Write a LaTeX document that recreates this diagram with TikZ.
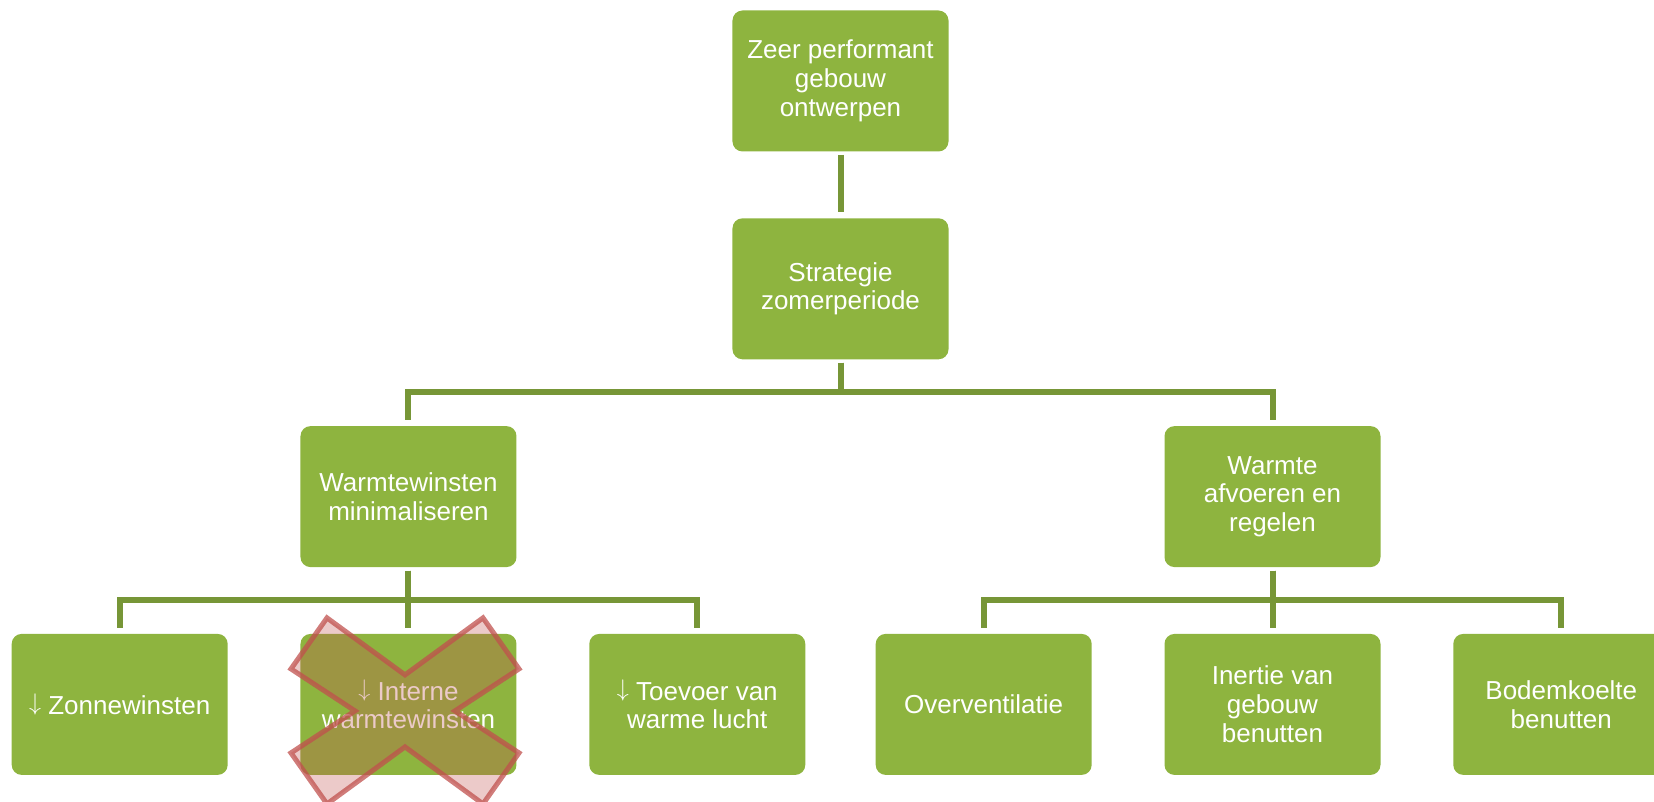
\documentclass[tikz,border=0pt]{standalone}
\usepackage{fontspec}
\setmainfont{Liberation Sans}
\usetikzlibrary{positioning}
\definecolor{boxgreen}{RGB}{142,180,63}
\definecolor{linkgreen}{RGB}{119,150,55}
\definecolor{crossred}{RGB}{192,80,77}
\newcommand{\less}{\raisebox{1.8pt}{$\downarrow$}}
\tikzset{
  box/.style={rectangle, rounded corners=5pt, fill=boxgreen, text=white,
    minimum width=108pt, minimum height=70.5pt, inner sep=2pt, align=center,
    font=\fontsize{13}{14.4}\selectfont},
  link/.style={draw=linkgreen, line width=3pt, shorten <=1.5pt, shorten >=3pt},
  cross/.style={draw=crossred, draw opacity=0.75, line width=2.5pt,
    fill=crossred, fill opacity=0.3}
}
\begin{document}
\begin{tikzpicture}[node distance=33pt and 36pt]

		\useasboundingbox (-420.25pt,-360.5pt) rectangle (406.75pt,40.5pt);

		%top of the tree
		\node[box] (goal) {Zeer performant\\gebouw\\ontwerpen};
		\node[box, below=of goal] (strat) {Strategie\\zomerperiode};
		\draw[link] (goal) -- (strat);

		%the two branches
		\node[box, below=of strat, xshift=-216pt] (minim) {Warmtewinsten\\minimaliseren};
		\node[box, below=of strat, xshift=216pt] (afvoer) {Warmte\\afvoeren en\\regelen};
		\draw[link] (strat.south) -- ++(0,-16pt) -| (minim.north);
		\draw[link] (strat.south) -- ++(0,-16pt) -| (afvoer.north);

		%leaves under minimaliseren
		\node[box, below=of minim] (intern) {\less{} Interne\\warmtewinsten};
		\node[box, left=of intern] (zon) {\less{} Zonnewinsten};
		\node[box, right=of intern] (lucht) {\less{} Toevoer van\\warme lucht};
		\draw[link] (minim.south) -- ++(0,-16pt) -| (zon.north);
		\draw[link] (minim) -- (intern);
		\draw[link] (minim.south) -- ++(0,-16pt) -| (lucht.north);

		%leaves under afvoeren
		\node[box, below=of afvoer] (inertie) {Inertie van\\gebouw\\benutten};
		\node[box, left=of inertie] (overv) {Overventilatie};
		\node[box, right=of inertie] (bodem) {Bodemkoelte\\benutten};
		\draw[link] (afvoer.south) -- ++(0,-16pt) -| (overv.north);
		\draw[link] (afvoer) -- (inertie);
		\draw[link] (afvoer.south) -- ++(0,-16pt) -| (bodem.north);

		% the red cross over the internal gains
		\begin{scope}[x=0.5pt, y=-0.5pt, shift={(intern.center)}, shift={(-3.5,6.5)}]
			\draw[cross] (-78,-93) -- (0,-36) -- (78,-93) -- (114,-42) -- (50,0)
				-- (114,42) -- (78,93) -- (0,36) -- (-78,93) -- (-114,42)
				-- (-50,0) -- (-114,-42) -- cycle;
		\end{scope}

	\end{tikzpicture}
\end{document}
